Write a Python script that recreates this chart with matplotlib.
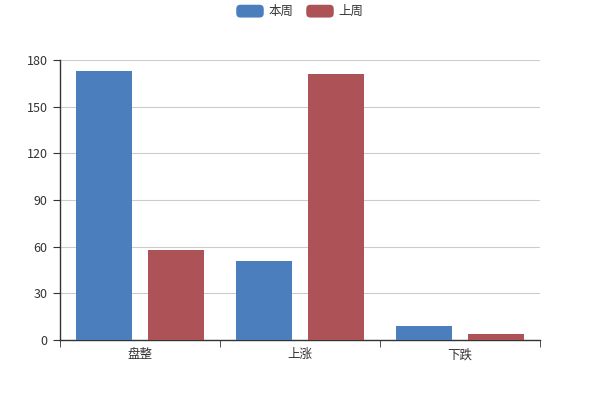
import matplotlib
matplotlib.use('Agg')
import matplotlib.pyplot as plt
from matplotlib.patches import Patch, FancyBboxPatch
from matplotlib.legend_handler import HandlerPatch
import numpy as np

plt.rcParams['font.family'] = ['Noto Sans CJK SC', 'DejaVu Sans']

categories = ['盘整', '上涨', '下跌']
series_names = ['本周', '上周']
this_week = [173, 51, 9]
last_week = [58, 171, 4]
y_ticks = [0, 30, 60, 90, 120, 150, 180]

colors = ['#4b7ebd', '#ad5358']


class RoundBox(HandlerPatch):
    def create_artists(self, legend, orig_handle, xdescent, ydescent,
                       width, height, fontsize, trans):
        p = FancyBboxPatch((-xdescent, -ydescent), width, height,
                           boxstyle='round,pad=0,rounding_size=3',
                           facecolor=orig_handle.get_facecolor(),
                           edgecolor='none', transform=trans)
        return [p]


fig = plt.figure(figsize=(6, 4), dpi=100)
ax = fig.add_axes([0.1, 0.15, 0.8, 0.7])

x = np.arange(len(categories))
w = 0.35
off = 0.228
ax.bar(x - off, this_week, width=w, color=colors[0], zorder=3)
ax.bar(x + off, last_week, width=w, color=colors[1], zorder=3)

ax.set_xlim(-0.5, len(categories) - 0.5)
ax.set_ylim(0, 180)
ax.set_yticks(y_ticks)
ax.yaxis.grid(True, color='#cccccc', linewidth=0.8, zorder=0)

ax.set_xticks(x)
ax.set_xticklabels(categories)
ax.set_xticks(np.arange(-0.5, len(categories)), minor=True)
ax.tick_params(axis='x', which='major', length=0, pad=6, labelsize=9, labelcolor='#333333')
ax.tick_params(axis='x', which='minor', length=5, color='#333333', direction='out')
ax.tick_params(axis='y', length=5, color='#333333', labelsize=9, labelcolor='#333333', pad=4)

for s in ['top', 'right']:
    ax.spines[s].set_visible(False)
for s in ['left', 'bottom']:
    ax.spines[s].set_color('#333333')
    ax.spines[s].set_linewidth(1)

handles = [Patch(facecolor=c, edgecolor=c, label=n) for c, n in zip(colors, series_names)]
fig.legend(handles=handles, loc='upper center', bbox_to_anchor=(0.5, 1.01), ncol=2,
           frameon=False, fontsize=9, handlelength=2.2, handleheight=1.2,
           columnspacing=1.0, handletextpad=0.4, borderaxespad=0.3,
           labelcolor='#333333', handler_map={Patch: RoundBox()})

fig.savefig('out.png', dpi=100)
